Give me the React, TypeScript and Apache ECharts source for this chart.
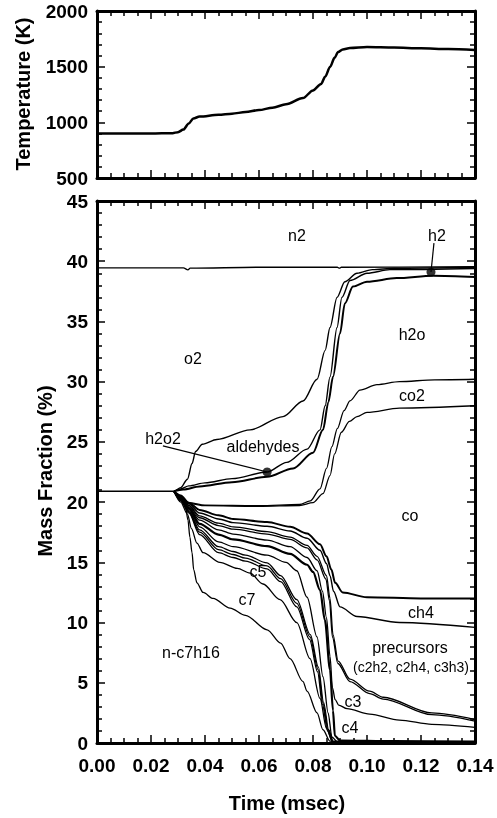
import React, { useEffect, useRef } from "react";
import * as echarts from "echarts";

// ---------- DATA ----------
const tempTime = [0, 0.02, 0.028, 0.03, 0.032, 0.034, 0.0357, 0.038, 0.045, 0.05, 0.055, 0.06, 0.065, 0.07, 0.0763, 0.08, 0.083, 0.0845, 0.0863, 0.088, 0.0893, 0.091, 0.0937, 0.1, 0.11, 0.12, 0.13, 0.14];
const tempK = [900, 900, 903, 912, 935, 990, 1035, 1052, 1068, 1078, 1092, 1110, 1132, 1162, 1218, 1287, 1345, 1410, 1497, 1580, 1632, 1655, 1668, 1677, 1672, 1665, 1658, 1650];

const n2Line = [[0, 39.45], [0.032, 39.45], [0.0337, 39.28], [0.0345, 39.42], [0.06, 39.5], [0.089, 39.5], [0.0898, 39.42], [0.0905, 39.5], [0.14, 39.55]];
const o2Bottom = [[0, 20.9], [0.0285, 20.9], [0.031, 21.2], [0.0335, 21.9], [0.0352, 23.2], [0.0365, 24.2], [0.039, 24.8], [0.0444, 25.2], [0.0567, 26.0], [0.0689, 27.1], [0.0763, 28.4], [0.0815, 30.2], [0.0845, 32.6], [0.0863, 34.5], [0.0889, 37.0], [0.0918, 38.3], [0.0963, 39.0], [0.102, 39.3], [0.11, 39.42], [0.14, 39.5]];
const aldehydesBottom = [[0.0285, 20.9], [0.031, 21.1], [0.034, 21.35], [0.04, 21.6], [0.05, 21.95], [0.063, 22.5], [0.0703, 23.3], [0.0778, 24.4], [0.0826, 26.0], [0.0845, 28.0], [0.0863, 30.4], [0.0889, 34.5], [0.0907, 37.0], [0.0937, 38.4], [0.1, 39.0], [0.1085, 39.3], [0.14, 39.4]];
const h2oTop = [[0.0285, 20.9], [0.032, 21.05], [0.038, 21.3], [0.05, 21.65], [0.063, 22.1], [0.0726, 22.8], [0.08, 24.1], [0.0837, 26.0], [0.0857, 28.3], [0.0874, 30.4], [0.09, 34.0], [0.0918, 36.5], [0.0948, 37.9], [0.1, 38.3], [0.111, 38.6], [0.1245, 38.8], [0.14, 38.7]];
const co2Top = [[0.0285, 20.9], [0.031, 20.4], [0.034, 19.95], [0.04, 19.75], [0.06, 19.7], [0.075, 19.8], [0.079, 20.1], [0.0826, 21.1], [0.085, 22.8], [0.087, 24.6], [0.089, 26.1], [0.0915, 27.6], [0.0937, 28.4], [0.0974, 29.3], [0.1037, 29.75], [0.112, 30.0], [0.125, 30.15], [0.14, 30.2]];
const coTop = [[0.0285, 20.9], [0.031, 20.35], [0.034, 19.9], [0.04, 19.7], [0.06, 19.65], [0.075, 19.72], [0.08, 19.95], [0.0837, 20.7], [0.0863, 22.2], [0.088, 24.0], [0.0905, 25.8], [0.0935, 26.7], [0.0963, 27.1], [0.1, 27.45], [0.112, 27.8], [0.14, 28.0]];
const ch4Top = [[0.0285, 20.9], [0.031, 20.55], [0.034, 19.95], [0.038, 19.35], [0.045, 18.9], [0.0504, 18.6], [0.063, 18.35], [0.0715, 17.95], [0.0778, 17.4], [0.0826, 16.5], [0.085, 15.5], [0.0868, 14.4], [0.0882, 13.3], [0.091, 12.5], [0.1, 12.1], [0.12, 12.0], [0.14, 12.0]];
const ch4Bottom = [[0.0285, 20.9], [0.031, 20.5], [0.034, 19.85], [0.038, 19.1], [0.045, 18.6], [0.0504, 18.3], [0.063, 18.0], [0.0715, 17.6], [0.0778, 17.0], [0.0826, 16.0], [0.085, 14.9], [0.0863, 13.9], [0.0876, 12.6], [0.09, 11.3], [0.0963, 10.5], [0.112, 10.0], [0.14, 9.6]];
const precursorsA = [[0.0285, 20.9], [0.031, 20.45], [0.034, 19.75], [0.038, 18.85], [0.045, 18.25], [0.0504, 17.95], [0.063, 17.55], [0.0715, 17.1], [0.0778, 16.4], [0.0815, 15.5], [0.085, 13.9], [0.0863, 12.0], [0.0874, 9.0], [0.0893, 6.8], [0.0937, 5.3], [0.101, 4.3], [0.106, 3.8], [0.124, 2.5], [0.14, 1.95]];
const precursorsB = [[0.0285, 20.9], [0.031, 20.4], [0.034, 19.7], [0.038, 18.7], [0.045, 18.05], [0.0504, 17.75], [0.063, 17.35], [0.0715, 16.9], [0.0778, 16.2], [0.0815, 15.2], [0.0848, 13.6], [0.0861, 11.8], [0.0872, 8.8], [0.0892, 6.6], [0.0937, 5.1], [0.101, 4.1], [0.106, 3.65], [0.124, 2.35], [0.14, 1.82]];
const c3Bottom = [[0.0285, 20.9], [0.031, 20.35], [0.034, 19.6], [0.038, 18.5], [0.045, 17.7], [0.0504, 17.35], [0.063, 16.85], [0.0715, 16.3], [0.0778, 15.4], [0.0815, 14.3], [0.0835, 12.6], [0.085, 10.4], [0.0863, 7.2], [0.0872, 4.6], [0.0882, 3.6], [0.0895, 3.15], [0.0926, 2.85], [0.101, 2.4], [0.112, 1.9], [0.124, 1.55], [0.14, 1.3]];
const c4Bottom = [[0.0285, 20.9], [0.031, 20.3], [0.034, 19.5], [0.038, 18.2], [0.045, 17.3], [0.0504, 16.9], [0.063, 16.35], [0.0715, 15.7], [0.0778, 14.8], [0.08, 14.2], [0.0826, 12.7], [0.0844, 10.2], [0.0863, 6.1], [0.0874, 2.7], [0.0881, 0.6], [0.09, 0.2], [0.11, 0.15], [0.14, 0.12]];
const c5Top = [[0.0285, 20.9], [0.031, 20.25], [0.034, 19.4], [0.038, 17.95], [0.045, 16.7], [0.0504, 16.3], [0.063, 15.6], [0.07, 15.0], [0.074, 14.3], [0.0778, 12.1], [0.0815, 8.8], [0.0837, 5.5], [0.0856, 2.5], [0.087, 0.5], [0.089, 0.1], [0.14, 0.05]];
const c5Mid = [[0.0285, 20.9], [0.031, 20.2], [0.034, 19.3], [0.038, 17.7], [0.045, 16.3], [0.0504, 15.9], [0.055, 15.6], [0.063, 14.95], [0.068, 13.9], [0.074, 11.9], [0.079, 9.0], [0.082, 6.3], [0.0839, 3.4], [0.0858, 1.1], [0.0875, 0.15], [0.14, 0.05]];
const c5Bottom = [[0.0285, 20.9], [0.031, 20.15], [0.034, 19.2], [0.038, 17.5], [0.045, 16.05], [0.0504, 15.65], [0.055, 15.35], [0.063, 14.7], [0.068, 13.65], [0.074, 11.6], [0.0789, 8.8], [0.0819, 6.1], [0.0837, 3.3], [0.0856, 1.1], [0.0874, 0.1], [0.14, 0.05]];
const c6Bottom = [[0.0285, 20.9], [0.031, 20.1], [0.034, 19.1], [0.038, 17.3], [0.045, 15.8], [0.0504, 15.4], [0.055, 15.1], [0.063, 14.45], [0.068, 13.4], [0.074, 11.3], [0.0787, 8.6], [0.0817, 5.9], [0.0835, 3.2], [0.0854, 1.0], [0.0872, 0.1], [0.14, 0.05]];
const c7Top = [[0.0285, 20.9], [0.031, 20.0], [0.0335, 19.0], [0.035, 17.8], [0.037, 16.6], [0.0393, 15.8], [0.0455, 15.0], [0.052, 14.5], [0.0567, 14.1], [0.0615, 13.2], [0.0678, 11.9], [0.074, 10.0], [0.0789, 7.0], [0.0826, 3.7], [0.085, 1.2], [0.0872, 0.1], [0.14, 0.05]];
const c7Bottom = [[0.0285, 20.9], [0.0315, 20.3], [0.0326, 19.9], [0.0337, 18.5], [0.0344, 17.1], [0.0352, 15.8], [0.0358, 14.4], [0.037, 13.3], [0.0393, 12.5], [0.043, 12.0], [0.0493, 11.2], [0.055, 10.6], [0.063, 9.4], [0.068, 8.3], [0.0715, 7.0], [0.0763, 5.1], [0.0778, 4.3], [0.0815, 2.5], [0.0837, 1.1], [0.0863, 0.15], [0.09, 0.05], [0.14, 0.05]];

const markerDots = [[0.1237, 39.1], [0.063, 22.5]];
const h2Leader = [[0.1248, 41.5], [0.1237, 39.1]];
const h2o2Leader = [[0.0244, 24.67], [0.063, 22.5]];

const regionLabels = ["n2", "h2", "h2o", "o2", "co2", "h2o2", "aldehydes", "co", "c5", "c7", "ch4", "precursors", "(c2h2, c2h4, c3h3)", "n-c7h16", "c3", "c4"];

// ---------- CHART ----------
const FONT = "'Liberation Sans', Arial, sans-serif";

export default function App() {
  const ref = useRef<HTMLDivElement>(null);

  useEffect(() => {
    if (!ref.current) return;
    const chart = echarts.init(ref.current, null, { renderer: "svg" });

    const labelStyle = { color: "#000", fontFamily: FONT, fontWeight: "bold", fontSize: 19 };

    const xCfg = (grid: number, pos: "top" | "bottom", labels: boolean) => ({
      type: "value",
      gridIndex: grid,
      position: pos,
      min: 0,
      max: 0.14,
      interval: 0.02,
      axisLine: { show: true, onZero: false, lineStyle: { color: "#000", width: 3 } },
      axisTick: { show: true, inside: true, length: 8, lineStyle: { color: "#000", width: 1.5 } },
      minorTick: { show: true, splitNumber: 4, length: 5, lineStyle: { color: "#000", width: 1.5 } },
      splitLine: { show: false },
      minorSplitLine: { show: false },
      axisLabel: labels
        ? { show: true, ...labelStyle, margin: 13, formatter: (v: number) => v.toFixed(2) }
        : { show: false },
    });

    const yCfg = (grid: number, pos: "left" | "right", labels: boolean, min: number, max: number, interval: number) => ({
      type: "value",
      gridIndex: grid,
      position: pos,
      min,
      max,
      interval,
      axisLine: { show: true, onZero: false, lineStyle: { color: "#000", width: 3 } },
      axisTick: { show: true, inside: true, length: 8, lineStyle: { color: "#000", width: 1.5 } },
      minorTick: { show: true, splitNumber: 5, length: 5, lineStyle: { color: "#000", width: 1.5 } },
      splitLine: { show: false },
      minorSplitLine: { show: false },
      axisLabel: labels
        ? { show: true, ...labelStyle, margin: 9, formatter: (v: number) => String(v) }
        : { show: false },
    });

    const massLine = (name: string, data: number[][], width = 1.3) => ({
      name,
      type: "line",
      xAxisIndex: 2,
      yAxisIndex: 2,
      data,
      showSymbol: false,
      symbol: "none",
      smooth: 0.3,
      smoothMonotone: "x",
      lineStyle: { color: "#000", width },
      z: 3,
    });

    const labelPos: Record<string, [number, number, number?]> = {
      "n2": [297, 235],
      "h2": [437, 235],
      "h2o": [412, 334],
      "o2": [193, 358],
      "co2": [412, 395],
      "h2o2": [163, 438],
      "aldehydes": [263, 446],
      "co": [410, 515],
      "c5": [258, 571],
      "c7": [247, 599],
      "ch4": [421, 612],
      "precursors": [410, 647],
      "(c2h2, c2h4, c3h3)": [411, 667, 14],
      "n-c7h16": [191, 652],
      "c3": [353, 701],
      "c4": [350, 727],
    };

    const graphics: any[] = regionLabels.map((t) => {
      const p = labelPos[t];
      return {
        type: "text",
        x: p[0],
        y: p[1],
        z: 10,
        style: {
          text: t,
          fill: "#000",
          font: `${p[2] || 16}px ${FONT}`,
          align: "center",
          verticalAlign: "middle",
        },
      };
    });
    graphics.push(
      {
        type: "text",
        x: 23,
        y: 94,
        rotation: Math.PI / 2,
        style: { text: "Temperature (K)", fill: "#000", font: `bold 20px ${FONT}`, align: "center", verticalAlign: "middle" },
      },
      {
        type: "text",
        x: 45,
        y: 471,
        rotation: Math.PI / 2,
        style: { text: "Mass Fraction (%)", fill: "#000", font: `bold 20px ${FONT}`, align: "center", verticalAlign: "middle" },
      },
      {
        type: "text",
        x: 287,
        y: 803,
        style: { text: "Time (msec)", fill: "#000", font: `bold 20px ${FONT}`, align: "center", verticalAlign: "middle" },
      }
    );

    chart.setOption({
      animation: false,
      grid: [
        { left: 97, right: 22, top: 11, height: 167, show: false },
        { left: 97, right: 22, top: 201, height: 542, show: false },
      ],
      xAxis: [xCfg(0, "bottom", false), xCfg(0, "top", false), xCfg(1, "bottom", true), xCfg(1, "top", false)],
      yAxis: [
        yCfg(0, "left", true, 500, 2000, 500),
        yCfg(0, "right", false, 500, 2000, 500),
        yCfg(1, "left", true, 0, 45, 5),
        yCfg(1, "right", false, 0, 45, 5),
      ],
      series: [
        {
          name: "Temperature",
          type: "line",
          xAxisIndex: 0,
          yAxisIndex: 0,
          data: tempTime.map((t, i) => [t, tempK[i]]),
          showSymbol: false,
          symbol: "none",
          smooth: 0.3,
          smoothMonotone: "x",
          lineStyle: { color: "#000", width: 2.5 },
        },
        massLine("n2", n2Line, 1.3),
        massLine("o2 bottom", o2Bottom, 1.4),
        massLine("aldehydes bottom", aldehydesBottom, 1.4),
        massLine("h2o top", h2oTop, 2),
        massLine("co2 top", co2Top, 1.3),
        massLine("co top", coTop, 1.3),
        massLine("ch4 top", ch4Top, 2),
        massLine("ch4 bottom", ch4Bottom, 1.4),
        massLine("precursors A", precursorsA, 1.3),
        massLine("precursors B", precursorsB, 1.3),
        massLine("c3 bottom", c3Bottom, 1.3),
        massLine("c4 bottom", c4Bottom, 2.2),
        massLine("c5 top", c5Top, 1.3),
        massLine("c5 mid", c5Mid, 1.3),
        massLine("c5 bottom", c5Bottom, 1.3),
        massLine("c6 bottom", c6Bottom, 1.3),
        massLine("c7 top", c7Top, 1.3),
        massLine("c7 bottom", c7Bottom, 1.3),
        {
          name: "h2 leader",
          type: "line",
          xAxisIndex: 2,
          yAxisIndex: 2,
          data: h2Leader,
          showSymbol: false,
          symbol: "none",
          lineStyle: { color: "#000", width: 1.2 },
        },
        {
          name: "h2o2 leader",
          type: "line",
          xAxisIndex: 2,
          yAxisIndex: 2,
          data: h2o2Leader,
          showSymbol: false,
          symbol: "none",
          lineStyle: { color: "#000", width: 1.2 },
        },
        {
          name: "markers",
          type: "scatter",
          xAxisIndex: 2,
          yAxisIndex: 2,
          data: markerDots,
          symbol: "circle",
          symbolSize: 9,
          itemStyle: { color: "#000" },
          z: 6,
        },
      ],
      graphic: graphics,
    });

    return () => chart.dispose();
  }, []);

  return <div ref={ref} style={{ position: "fixed", left: 0, top: 0, width: 497, height: 818 }} />;
}
